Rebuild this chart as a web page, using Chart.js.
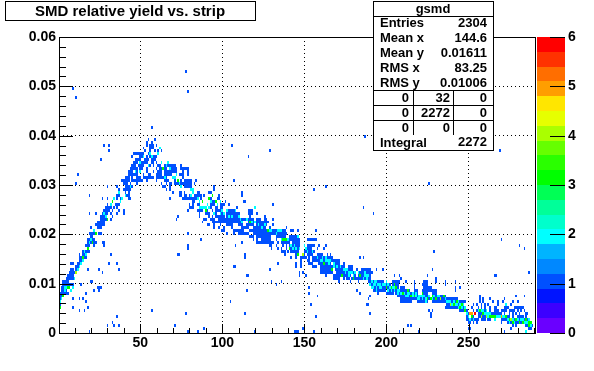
<!DOCTYPE html>
<html>
<head>
<meta charset="utf-8">
<title>SMD relative yield vs. strip</title>
<script src="https://cdn.jsdelivr.net/npm/chart.js@4"></script>
<style>
html, body { margin: 0; padding: 0; background: #fff; }
canvas { display: block; }
</style>
</head>
<body>
<canvas id="gsmdChart" width="594" height="371"></canvas>
<script>
// single cells far from the band: strip, yield
const strayCells = [[9,.0497],[11,.0478],[78,.0533],[79,.049],[28,.0383],[31,.0378],[31,.0371],[26,.0353],[12,.0322],[11,.0304],[30,.0297],[106,.0383],[116,.0359],[129,.0371],[107,.031],[95,.0297],[269,.0371],[187,.04],
  [19,.028],[19,.0243],[23,.0243],[131,.0262],[73,.0238],[120,.0255],[112,.0282],[114,.0269],[87,.019],[79,.0203],[79,.0179],[73,.016],[32,.016],[28,.0178],[31,.0142],[36,.0142],[37,.013],[25,.013],[27,.0124],[18,.013],[20,.0105],[21,.0105],[14,.0099],[24,.0093],[25,.0093],[26,.0093],[22,.0087],[25,.0087],[17,.0081],[9,.0069],[13,.0069],[15,.0069],[17,.0063],[9,.0051],[18,.0051],[13,.0045],[16,.0045],[36,.0032],[33,.002],[34,.0016],[37,.0016],[30,.0016],[19,.0003],[30,.0003],[57,.0045],[78,.0039],[71,.0016],[79,.0003],[85,.0003],[89,.0009],[105,.0063],[114,.0039],[115,.0087],[107,.0136],[114,.0154],[116,.0118],[129,.013],[130,.0105],[136,.0105],[133,.0099],[120,.0003],[144,.0003],[145,.0003],[134,.0142],[145,.0136],
  [163,.0298],[156,.0292],[226,.0304],[186,.0255],[192,.0243],[157,.0207],[270,.019],[281,.0178],[284,.0172],[229,.0166],[184,.0154],[186,.0154],[228,.013],[194,.013],[198,.013],[287,.0124],[266,.0118],[267,.0118],[225,.0118],[205,.0118],[208,.0118],[209,.0111],[212,.0105],[230,.0105],[230,.0111],[153,.0093],[153,.0081],[158,.0075],[154,.0057],[182,.0087],[184,.0081],[190,.0075],[189,.0069],[188,.0057],[189,.0057],[190,.0039],[157,.0032],[149,.001],[145,.0003],[146,.0003],[156,.0003],[208,.0003],[213,.0016],[215,.0016],[220,.0003],[227,.0041],[227,.0035],[228,.0045],[270,.0003],[272,.0003],[276,.0009],[287,.0009]];

// one-entry cells of the band, by row: yield, then the strips filled in that row
const bandRowsLow = [[.0227,24,25,26,27,28],[.022,23,24,25,26,27],[.0213,20,24,25,26],[.0201,19,20,21,22,25,26],[.0196,20,21],[.0191,19,20,21,22],[.0187,18,19,20,21],[.0181,18,19,20,22,23,27,28],[.0174,17,18,19,22],[.0166,15,16,17,18,19],[.016,13,15,16,17],[.0154,13,14,15,16,17],[.0148,13,14,15],[.0142,8,9,12,13,14],[.0136,11,12,13],[.013,8,9,11],[.0124,7,8,9,10,11],[.0118,6,7,8,9],[.0111,5,6,7,8,9],[.0105,3,4,5,6],[.0099,3,4,5,6,7,8,9],[.0093,2,3,4],[.0087,2,3,4,5],[.0081,1,2,3,4,5,6],[.0075,1,2,3],[.0069,1,2],[.0063,1],[.0057,1],
  [.0285,37,41,43],[.0279,36,37,41,42,43],[.0273,27,30,36,38,43,44],[.0261,30,32,35,36,37],[.0255,29,30,31,32,34,36],[.0249,28,29,30,31,33,37,40],[.0243,27,28,29,30,32,36,40],[.0237,26,27,28,29,33],[.0231,26,27,28,29,32],[.0225,24,25,26,27,28],[.0219,24,25,26,27,28]];

const bandRowsCone = [[.0417,57],[.0393,55,59],[.0387,54,57],[.0381,54,56,57,58,60],[.0375,52,56,57,58],[.0369,53,56,59,61,63],[.0363,46,47,48,49,50,51,52,55,61],[.0357,45,50,51,54,56,57,58,59,60],[.0351,47,48,49,50,53,54,55,57,58,59],[.0345,46,47,48,50,51,52,53,54,57,58,60,63],[.0339,45,46,47,49,50,51,52,56,58,61,62,65,66,67,68,69,70,71,75],[.0333,44,45,46,47,48,50,51,54,60,62,63,65,66,68,69,70,71,72,75,76,77,78,79],[.0327,43,44,45,47,48,54,58,61,62,63,65,66,67,68,69,70,71,72,76,79],[.0321,43,44,45,46,47,48,52,55,56,60,61,62,63,65,66,67,68,69,74,75,76,79],[.0315,41,42,43,45,48,49,50,52,53,54,55,56,57,58,60,61,62,63,64,65,66,70,71,76],[.0309,39,40,41,42,43,45,46,47,48,49,50,51,54,60,65,66,67,71,75,77,78,79,80,81,84],[.0303,40,41,42,44,48,63,66,69,77,79,80,81,83],[.0297,36,41,42,43,44,45,64,65,68,78,79,80,81],[.0291,37,40,41,42,43,44,66,68,95]];

const bandRowsMid = [[.0308,77,78,79,80,81],[.0302,68,71,72,73,75,76,77,78],[.0296,68,77,78],[.0287,70,74,75,77,85,86,92,93],[.028,74,75,77,78,80,83,84,85,86,87,89,98,112],[.0274,68,76,77,78,79,80,81,82,83,84,85,87,92,93,97,98],[.0268,82,83,93,94,95,102,113],[.0262,80,82,85,86,93,94,95,99,100,101,104,131],[.0256,80,81,82,93,96,97,99,100,109,120],[.025,79,85,86,87,88,91,94,96,97,98,99,100,103,104,105,106,107,116,117,118],[.0244,86,90,91,92,95,96,99,100,101,103,104,105,106,107,108,109,110,116,117,118,121],[.0238,86,92,94,96,97,98,99,100,101,103,104,105,106,107,108,109,117,126],[.0232,72,89,90,93,94,95,98,99,100,101,102,103,104,105,106,107,108,109,110,111,112,113,114,116,117,118,119,121,122,123,126,127,131],[.0226,88,94,95,96,97,98,99,100,101,102,103,104,105,106,107,108,109,110,111,116,118,119,120,121,122,123,124,125,126,127,128],[.022,91,92,95,99,103,104,105,106,110,111,112,115,116,117,118,119,121,122,123,124,125,126,127,131],[.0214,95,98,101,106,112,113,114,115,116,119,120,121,122,123,124,125,126,129,139],[.0208,100,101,107,108,109,110,111,112,113,117,118,119,120,121,122,123,124,125,126,127,131,132,133,134,135,136,137,138,142,143,146],[.0202,79,103,107,110,111,112,113,114,115,116,119,120,121,122,123,124,125,126,127,128,129,130,131,132,133,134,135,136,137,138,139],[.0196,117,118,119,121,122,123,124,125,126,127,128,129,133,134,135,136,137,138,141,142,143,144,145],[.019,87,119,121,124,125,126,127,128,129,133,136,140,141,142,143,144,145,146,147],[.0184,112,121,122,123,124,125,126,127,128,129,130,131,134,136,137,138,139,140,141,143,144,145,146,147],[.0178,108,129,130,133,137,139,141,142,143,144,145,146,147],[.0172,79,130,134,136,139,142,143,144,145,146],[.0166,136,137,138,140,142,143,144,145,146],[.016,74,114,138,145],[.0154,142,145],[.0142,134,145],[.0136,108,145],[.013,129],[.0118,115]];

const bandRowsHigh = [[.0186,152,153,154,155,156,157],[.0179,152,153,154,155,156,159,163],[.0172,152,153,154,158,162],[.0166,150,151,152,153,154,155,156],[.016,150,152,153,154,155,158,159,160,161,164,166],[.0154,148,149,150,151,153,155,156,157,158,159,160,161,162,163,164,165,166,167,184,186],[.0148,148,152,153,155,156,157,158,159,161,162,163,164,165,166,167,168,169,170,171],[.0141,148,153,154,155,159,160,161,162,163,164,165,166,168,169,170,171,174],[.0136,148,155,156,157,160,161,162,163,164,165,166,167,168,169,171,172,173,174,177,178,179],[.013,160,161,162,163,164,165,166,167,169,170,171,172,173,174,175,176,177,178,179,182,185,186,187,188,189,190,194,198],[.0124,147,149,160,161,162,163,164,165,166,167,170,171,172,173,174,175,176,177,178,179,180,181,184,185,186,187,188,189,190,191],[.0118,147,151,163,168,169,170,171,172,174,175,176,177,178,181,183,184,185,186,187,188,189,190],[.0111,168,169,170,171,174,176,177,179,180,181,182,183,184,185,186,187,188,189,190],
  [.0105,171,178,183,189,190,191,192,193,194,195,196,197,198,204,205,206,207,208,212,217,223,224,225,230,236,242],[.0099,190,191,192,193,194,195,196,197,198,199,200,201,202,204,205,206,207,217,222,223,224,225,236],[.0093,191,192,193,194,195,196,197,198,199,200,201,202,203,204,205,206,207,209,210,211,217,223,224,225,226,227,242,245],[.0087,192,193,194,195,196,197,198,199,201,202,203,204,206,207,208,209,210,211,212,213,214,217,218,219,222,223,224,225,226,227,228,229,230,242],[.0081,195,200,201,202,203,204,206,207,208,209,210,211,212,213,214,215,216,217,218,219,222,223,224,225,228,229,230],[.0075,207,208,209,210,211,212,213,214,215,216,217,218,219,220,221,222,223,224,225,226,228,229,230,231,232,233,234,235,236],[.0069,209,210,211,212,213,214,215,216,217,218,219,220,221,223,224,225,226,227,228,229,230,231,232,233,234,235,236,237,238,239,240,241,242,243],[.0063,209,210,211,212,213,214,215,219,220,221,222,223,224,225,228,229,230,231,232,233,234,235,236,237,238,239,240,241,242,243,244,245,246,247,248],[.0057,237,238,239,240,241,242,243,244,245,246,247],[.0051,236,237,238,239,240,241,242,243,244,245,246,247,248],[.0045,226,245,246,247,248,249],
  [.0075,257,279,284],[.0069,257,259,263,272],[.0063,257,259,265,268,271,277,280],[.0057,253,255,258,260,262,268,276],[.0051,252,256,258,260,263,266,267,272,273,274,278,279,280,281,282,283],[.0045,253,255,256,257,258,259,260,261,263,266,267,268,270,271,272,273,275,276,277,278,280,282,284],[.0039,250,251,256,257,258,259,260,261,262,263,264,265,266,267,268,269,270,272,275,277,279,281,285,286],[.0033,249,250,253,256,257,258,259,260,261,262,265,266,267,268,269,270,271,272,273,274,275,277,280,281,282,283,285],[.0027,249,250,252,253,254,255,256,258,259,260,262,263,270,271,272,273,274,275,276,277,278,279,280,281,282,283,284,285,286,287],[.0021,250,251,253,255,270,274,275,276,277,278,279,280,281,282,283,284,285,286,287,288],[.0015,277,279,285,286,288,289],[.0009,250,251,288]];

// heavier cells: strip, then yields
const cellsCount2 = [[1,.0063],[2,.0069],[4,.0087,.0093],[5,.0093],[8,.0087],[9,.0093],[10,.0111],[12,.0129],[13,.0135],[14,.0141],[15,.0147],[16,.0165],[17,.0159],[19,.0183],[20,.0189],[22,.0207],[28,.0243],[29,.0237],[32,.0261],[34,.0273],[37,.0285],[38,.0267],[39,.0273],[41,.0279],[44,.0297],[47,.0327],[50,.0327,.0345],[52,.0357],[55,.0339],[56,.0363],[57,.0357],[61,.0363],[62,.0375],[63,.0345],[65,.0315],[66,.0339],[67,.0345],[68,.0333],[70,.0315],[71,.0315],[72,.0321],[74,.0303],[75,.0297],
  [81,.0291,.0279],[82,.0291,.0285],[85,.0273],[86,.0267,.0255],[87,.0255],[88,.0255],[89,.0255],[90,.0255],[91,.0261],[92,.0255],[93,.0267],[95,.0243],[97,.0261],[99,.0267,.0243],[100,.0249],[101,.0243],[103,.0249],[104,.0237],[106,.0237],[108,.0249],[110,.0237],[111,.0231],[112,.0225],[115,.0231],[118,.0225],[120,.0255,.0225],[122,.0219],[124,.0213],[126,.0219],[128,.0207],[129,.0207],[130,.0207],[133,.0201],[134,.0207],[135,.0207],[136,.0207,.0189],[140,.0189],[142,.0177],[143,.0171],[144,.0177],[145,.0171],[146,.0195],[147,.0171],
  [150,.0177],[151,.0171],[152,.0165],[155,.0165],[158,.0153],[160,.0147],[161,.0153,.0147],[163,.0153,.0147],[164,.0147],[165,.0141,.0147],[166,.0147],[168,.0141,.0135],[170,.0135],[172,.0135],[174,.0129],[175,.0123,.013],[176,.013],[177,.0123,.0117],[178,.0124],[179,.0123],[180,.0118],[181,.0123],[183,.0123],[186,.0111],[187,.0123,.0118],[188,.0117,.0111],[189,.0118],
  [190,.0099],[191,.0105,.0093],[192,.0093,.0099],[193,.0099,.0105],[194,.0105,.0087,.0093],[195,.0099],[196,.0099,.0093],[197,.0093],[198,.0099],[199,.0099],[200,.0105],[201,.0099,.0087],[202,.0093],[203,.0087],[204,.0093],[205,.0093,.0087],[207,.0081,.0087],[208,.0087],[209,.0081],
  [211,.0081],[212,.0075],[213,.0081,.0075],[214,.0081],[216,.0075,.0081],[218,.0075,.0081],[219,.0069],[220,.0075,.0069],[221,.0075],[222,.0075,.0069],[223,.0075],[224,.0063,.0069],[226,.0075],[228,.0069],[229,.0075],[231,.0075],[232,.0075],[233,.0069],[236,.0069],[237,.0063],[238,.0063],[239,.0063],[240,.0057],[241,.0063],[242,.0057],[243,.0057],[244,.0051,.0063],[245,.0057],[246,.0051],[247,.0057],[248,.0051],[249,.0039],[250,.0033],[251,.0027],[253,.0027],[256,.0045],[258,.0045],[259,.0045],[260,.0039],[261,.0039,.0045],[262,.0033,.0039],[263,.0039],[266,.0027],[267,.0033],[268,.0033],[269,.0033],[271,.0033],[272,.0033],[273,.0057],[274,.0027],[275,.0021],[277,.0027],[278,.0021],[280,.0027],[282,.0027],[283,.0027],[284,.0021],[285,.0021,.0003],[286,.0021],[287,.0027],[288,.0015]];

const cellsCount3 = [[1,.0051],[3,.0075],[6,.0093],[7,.0093],[15,.0153],[18,.0171],[21,.0183],[23,.0201],[30,.0231],[33,.0267],[64,.0333],[73,.0309],[88,.0267],[90,.0249],[92,.0273],[94,.0279],[96,.0267],[117,.0225],[128,.0207],[137,.0189],[138,.0189],[139,.0189],[141,.0171],[146,.0159],[162,.0141],[167,.0129],[173,.0117],[180,.0111],[184,.0117],[200,.0093],[203,.0093],[205,.0099],[206,.0093],[210,.0081],[213,.0087],[215,.0075],[217,.0075],[222,.0081],[225,.0069],[227,.0069],[228,.0075],[230,.0069],[235,.0075],[241,.0057],[243,.0063],[245,.0051],[246,.0057],[248,.0045],[252,.0033],[257,.0045],[259,.0039],[263,.0033],[264,.0033],[265,.0033],[266,.0033],[273,.0033],[275,.0027],[277,.0021],[279,.0027],[281,.0021],[283,.0021],[285,.0027],[287,.0021,.0015],[288,.0021]];
const cellsCount4 = [[11,.0123],[149,.0159],[233,.0069],[239,.0057],[258,.0033],[261,.0033],[276,.0027]];
const cellsCount5 = [[251,.0039],[252,.0039],[270,.0033]];
const cellsCount6 = [[254,.0039]];

const xMinor = [10,20,30,40,60,70,80,90,110,120,130,140,160,170,180,190,210,220,230,240,260,270,280,290];
const xMajor = [50,100,150,200,250];
const yMinor = [.002,.004,.006,.008,.012,.014,.016,.018,.022,.024,.026,.028,.032,.034,.036,.038,.042,.044,.046,.048,.052,.054,.056,.058];
const yMajor = [0,.01,.02,.03,.04,.05,.06];
const zMajor = [0,1,2,3,4,5,6];

const paletteColors = ['#6a00ff','#3c00ff','#0014ff','#0050ff','#0088ff','#00b4ff','#00ffff','#00ffcc','#00ff99','#00ff55','#00ff00','#2aff00','#66ff00','#aaff00','#e6ff00','#ffe600','#ff9e00','#ff6e00','#ff3200','#ff0000'];

const statsRows = [['Entries','2304'],['Mean x','144.6'],['Mean y','0.01611'],['RMS x','83.25'],['RMS y','0.01006']];
const statsMatrix = [['0','32','0'],['0','2272','0'],['0','0','0']];

const yBinHeight = 0.0006;
const boldFont = 'bold 14px "Liberation Sans"';

function pointsFromStrips(rows) {
    return rows.flatMap(function (row) {
        return row.slice(1).map(function (y) { return { x: row[0], y: y }; });
    });
}

function pointsFromYields(rows) {
    return rows.flatMap(function (row) {
        return row.slice(1).map(function (s) { return { x: s, y: row[0] }; });
    });
}

function colorForCount(count) {
    return paletteColors[Math.min(Math.floor(count / 6 * 20), 19)];
}

// 2D histogram cells, one filled bin per point
const histCells = {
    id: 'histCells',
    afterDatasetsDraw: function (chart) {
        const c = chart.ctx, xs = chart.scales.x, ys = chart.scales.y;
        chart.data.datasets.forEach(function (ds) {
            c.fillStyle = ds.backgroundColor;
            ds.data.forEach(function (p) {
                const bin = Math.floor(p.y / yBinHeight);
                const x0 = Math.round(xs.getPixelForValue(p.x - 0.5));
                const x1 = Math.round(xs.getPixelForValue(p.x + 0.5));
                const y0 = Math.round(ys.getPixelForValue((bin + 1) * yBinHeight));
                const y1 = Math.round(ys.getPixelForValue(bin * yBinHeight));
                c.fillRect(x0, y0, Math.max(x1 - x0, 1), Math.max(y1 - y0, 1));
            });
        });
    }
};

function hLine(c, x0, x1, y) {
    c.beginPath();
    c.moveTo(x0, Math.round(y) + 0.5);
    c.lineTo(x1, Math.round(y) + 0.5);
    c.stroke();
}

function vLine(c, x, y0, y1) {
    c.beginPath();
    c.moveTo(Math.round(x) + 0.5, y0);
    c.lineTo(Math.round(x) + 0.5, y1);
    c.stroke();
}

// ROOT look: frame, ticks inside the frame, palette bar, title and stats boxes
const rootDecor = {
    id: 'rootDecor',
    afterDraw: function (chart) {
        const c = chart.ctx, a = chart.chartArea;
        const xs = chart.scales.x, ys = chart.scales.y, zs = chart.scales.z;
        c.save();
        c.strokeStyle = '#000';
        c.lineWidth = 1;
        c.setLineDash([]);

        hLine(c, a.left, a.right + 1, a.top);
        hLine(c, a.left, a.right + 1, a.bottom);
        vLine(c, a.left, a.top, a.bottom + 1);
        vLine(c, a.right, a.top, a.bottom + 1);

        xMinor.forEach(function (v) { vLine(c, xs.getPixelForValue(v), a.bottom - 5, a.bottom); });
        xMajor.forEach(function (v) { vLine(c, xs.getPixelForValue(v), a.bottom - 9, a.bottom); });
        yMinor.forEach(function (v) { hLine(c, a.left, a.left + 7, ys.getPixelForValue(v)); });
        yMajor.forEach(function (v) { hLine(c, a.left, a.left + 14, ys.getPixelForValue(v)); });

        // palette
        const barLeft = 537, barRight = 565;
        paletteColors.forEach(function (color, i) {
            const top = Math.round(zs.getPixelForValue((i + 1) * 0.3));
            const bottom = Math.round(zs.getPixelForValue(i * 0.3));
            c.fillStyle = color;
            c.fillRect(barLeft, top, barRight - barLeft, bottom - top);
        });
        c.font = boldFont;
        c.fillStyle = '#000';
        c.textAlign = 'left';
        c.textBaseline = 'middle';
        zMajor.forEach(function (v) {
            const y = zs.getPixelForValue(v);
            hLine(c, barRight - 15, barRight, y);
            c.fillText(String(v), 568, y);
        });

        // title box
        c.fillStyle = '#fff';
        c.fillRect(5.5, 1.5, 250, 19);
        c.strokeRect(5.5, 1.5, 250, 19);
        c.fillStyle = '#000';
        c.textAlign = 'center';
        c.font = 'bold 15px "Liberation Sans"';
        c.fillText('SMD relative yield vs. strip', 130, 12);

        // stats box
        c.fillStyle = '#fff';
        c.fillRect(373.5, 1.5, 120, 149);
        c.strokeRect(373.5, 1.5, 120, 149);
        hLine(c, 373, 494, 16);
        hLine(c, 373, 494, 90);
        hLine(c, 373, 494, 105);
        hLine(c, 373, 494, 120);
        vLine(c, 413, 90, 135);
        vLine(c, 453, 90, 135);
        c.fillStyle = '#000';
        c.font = 'bold 13px "Liberation Sans"';
        c.fillText('gsmd', 433, 9);
        statsRows.forEach(function (row, i) {
            c.textAlign = 'left';
            c.fillText(row[0], 380, 23 + i * 15);
            c.textAlign = 'right';
            c.fillText(row[1], 487, 23 + i * 15);
        });
        const matrixRight = [409, 450, 487];
        statsMatrix.forEach(function (row, i) {
            row.forEach(function (cell, j) {
                c.fillText(cell, matrixRight[j], 98 + i * 15);
            });
        });
        c.textAlign = 'left';
        c.fillText('Integral', 380, 143);
        c.textAlign = 'right';
        c.fillText('2272', 487, 142);
        c.restore();
    }
};

function histDataset(label, points, count) {
    return {
        label: label,
        data: points,
        backgroundColor: colorForCount(count),
        pointRadius: 0,
        pointHoverRadius: 0
    };
}

const ctx = document.getElementById('gsmdChart').getContext('2d');
const gsmdChart = new Chart(ctx, {
    type: 'scatter',
    data: {
        datasets: [
            histDataset('stray', strayCells.map(function (p) { return { x: p[0], y: p[1] }; }), 1),
            histDataset('1 entry, low strips', pointsFromYields(bandRowsLow), 1),
            histDataset('1 entry, cone', pointsFromYields(bandRowsCone), 1),
            histDataset('1 entry, middle', pointsFromYields(bandRowsMid), 1),
            histDataset('1 entry, high strips', pointsFromYields(bandRowsHigh), 1),
            histDataset('2 entries', pointsFromStrips(cellsCount2), 2),
            histDataset('3 entries', pointsFromStrips(cellsCount3), 3),
            histDataset('4 entries', pointsFromStrips(cellsCount4), 4),
            histDataset('5 entries', pointsFromStrips(cellsCount5), 5),
            histDataset('6 entries', pointsFromStrips(cellsCount6), 6)
        ]
    },
    options: {
        responsive: false,
        animation: false,
        devicePixelRatio: 1,
        layout: { padding: { top: 37, right: 59, left: 0, bottom: 0 } },
        plugins: { legend: { display: false }, tooltip: { enabled: false } },
        scales: {
            x: {
                type: 'linear',
                min: 0.5,
                max: 290.5,
                afterBuildTicks: function (axis) {
                    axis.ticks = xMajor.map(function (v) { return { value: v }; });
                },
                afterFit: function (axis) { axis.height = 371 - 333; },
                border: { display: false, dash: [1, 3] },
                grid: { color: '#000', drawTicks: false },
                ticks: {
                    autoSkip: false,
                    maxRotation: 0,
                    padding: 2,
                    color: '#000',
                    font: { family: 'Liberation Sans', size: 14, weight: 'bold' }
                }
            },
            y: {
                type: 'linear',
                min: 0,
                max: 0.06,
                afterBuildTicks: function (axis) {
                    axis.ticks = yMajor.map(function (v) { return { value: v }; });
                },
                afterFit: function (axis) { axis.width = 59; },
                border: { display: false, dash: [1, 3] },
                grid: { color: '#000', drawTicks: false },
                ticks: {
                    autoSkip: false,
                    padding: 3,
                    color: '#000',
                    font: { family: 'Liberation Sans', size: 14, weight: 'bold' },
                    callback: function (v) { return v === 0 ? '0' : v.toFixed(2); }
                }
            },
            z: { type: 'linear', display: false, position: 'right', min: 0, max: 6 }
        }
    },
    plugins: [histCells, rootDecor]
});
</script>
</body>
</html>
